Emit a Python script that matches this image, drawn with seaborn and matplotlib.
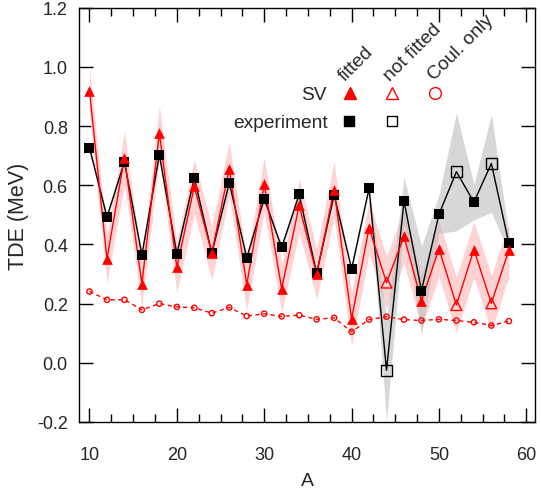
import numpy as np
import pandas as pd
import matplotlib
matplotlib.use("Agg")
import matplotlib.pyplot as plt
from matplotlib.ticker import MultipleLocator, FormatStrFormatter
import seaborn as sns

# Mass numbers
mass_A = [10, 12, 14, 16, 18, 20, 22, 24, 26, 28, 30, 32, 34,
          36, 38, 40, 42, 44, 46, 48, 50, 52, 54, 56, 58]

# Experimental TDE (MeV) and uncertainties
exp_tde = [0.727, 0.493, 0.679, 0.365, 0.703, 0.368, 0.625, 0.371, 0.608,
           0.355, 0.555, 0.390, 0.569, 0.303, 0.568, 0.317, 0.590, -0.025,
           0.547, 0.244, 0.502, 0.646, 0.543, 0.674, 0.404]
exp_err = [0.01, 0.01, 0.01, 0.01, 0.01, 0.01, 0.01, 0.01, 0.01,
           0.01, 0.01, 0.01, 0.01, 0.01, 0.01, 0.01, 0.01, 0.17,
           0.08, 0.15, 0.065, 0.20, 0.06, 0.165, 0.03]
exp_fitted = [True] * 17 + [False, True, True, True, False, True, False, True]

# SV interaction TDE (MeV) and uncertainties
sv_tde = [0.920, 0.351, 0.693, 0.267, 0.777, 0.323, 0.596, 0.371, 0.656,
          0.264, 0.603, 0.250, 0.532, 0.300, 0.585, 0.148, 0.456, 0.271,
          0.427, 0.209, 0.386, 0.195, 0.383, 0.201, 0.381]
sv_err = [0.080, 0.080, 0.090, 0.075, 0.092, 0.085, 0.092, 0.092, 0.090,
          0.088, 0.092, 0.080, 0.090, 0.085, 0.095, 0.090, 0.090, 0.090,
          0.090, 0.090, 0.095, 0.094, 0.095, 0.094, 0.090]
sv_fitted = exp_fitted

# Coulomb-only contribution (MeV)
coul_tde = [0.241, 0.213, 0.213, 0.179, 0.200, 0.189, 0.186, 0.168, 0.187,
            0.158, 0.166, 0.157, 0.161, 0.147, 0.152, 0.105, 0.146, 0.156,
            0.146, 0.143, 0.147, 0.143, 0.137, 0.126, 0.141]

df = pd.DataFrame({"A": mass_A, "exp": exp_tde, "exp_err": exp_err,
                   "sv": sv_tde, "sv_err": sv_err, "coul": coul_tde,
                   "fit": exp_fitted})
fit = df[df["fit"]]
nofit = df[~df["fit"]]

sns.set_theme(style="ticks")
plt.rcParams["font.family"] = ["Liberation Sans", "DejaVu Sans"]
plt.rcParams["axes.unicode_minus"] = False
FS = 13
FS_KEY = 13.8

fig = plt.figure(figsize=(5.41, 4.89), dpi=100)
ax = fig.add_axes([0.146, 0.135, 0.843, 0.847])

# Uncertainty bands
ax.fill_between(df["A"], df["sv"] - df["sv_err"], df["sv"] + df["sv_err"],
                color="#ffd3d3", lw=0, zorder=1)
ax.fill_between(df["A"], df["exp"] - df["exp_err"], df["exp"] + df["exp_err"],
                color="#bdbdbd", alpha=0.6, lw=0, zorder=1.5)

# Lines
sns.lineplot(data=df, x="A", y="exp", color="black", lw=1.0, ax=ax, zorder=2)
sns.lineplot(data=df, x="A", y="sv", color="red", lw=1.0, ax=ax, zorder=3)
sns.lineplot(data=df, x="A", y="coul", color="red", lw=1.0, ax=ax, zorder=3,
             linestyle=(0, (3, 2.5)))

# Markers
sns.scatterplot(data=fit, x="A", y="exp", marker="s", s=6.5**2, color="black",
                edgecolor="black", linewidth=0, ax=ax, zorder=4)
sns.scatterplot(data=nofit, x="A", y="exp", marker="s", s=8**2, color="none",
                edgecolor="black", linewidth=1.0, ax=ax, zorder=4)
sns.scatterplot(data=fit, x="A", y="sv", marker="^", s=7.7**2, color="red",
                edgecolor="red", linewidth=0, ax=ax, zorder=5)
sns.scatterplot(data=nofit, x="A", y="sv", marker="^", s=7.7**2, color="none",
                edgecolor="red", linewidth=1.0, ax=ax, zorder=5)
sns.scatterplot(data=df, x="A", y="coul", marker="o", s=3.8**2, color="none",
                edgecolor="red", linewidth=1.0, ax=ax, zorder=5)

# Axes limits and ticks
ax.set_xlim(8.8, 61.0)
ax.set_ylim(-0.2, 1.2)
ax.xaxis.set_major_locator(MultipleLocator(10))
ax.xaxis.set_minor_locator(MultipleLocator(2.5))
ax.yaxis.set_major_locator(MultipleLocator(0.2))
ax.yaxis.set_major_formatter(FormatStrFormatter("%.1f"))
ax.tick_params(which="both", direction="in", top=True, right=True,
               color="black", width=1.0, labelsize=FS)
ax.tick_params(which="major", length=10)
ax.tick_params(which="minor", length=6)
ax.tick_params(axis="x", which="major", pad=17)
ax.tick_params(axis="y", which="major", pad=8)
for sp in ax.spines.values():
    sp.set_color("black")
    sp.set_linewidth(1.0)

ax.set_xlabel("A", fontsize=14, labelpad=7)
ax.set_ylabel("TDE (MeV)", fontsize=15.5, labelpad=6)

# Key
tr = ax.transAxes
def px(x, y):
    return ((x - 79) / 456, (423 - y) / 414)

for label, (x0, y0) in [("fitted", (345, 82)), ("not fitted", (390, 82)),
                        ("Coul. only", (434, 81))]:
    ax.text(*px(x0, y0), label, transform=tr, rotation=45, fontsize=FS_KEY,
            ha="left", va="baseline", rotation_mode="anchor")
ax.text(*px(327, 96), "SV", transform=tr, fontsize=FS_KEY, ha="right",
        va="center")
ax.text(*px(328, 124), "experiment", transform=tr, fontsize=FS_KEY,
        ha="right", va="center")
ax.plot(*px(350, 94), marker="^", ms=8.5, color="red", transform=tr, clip_on=False)
ax.plot(*px(392, 94), marker="^", ms=8.5, mfc="none", mec="red", mew=1.0,
        transform=tr, clip_on=False)
ax.plot(*px(435, 94), marker="o", ms=8.5, mfc="none", mec="red", mew=1.0,
        transform=tr, clip_on=False)
ax.plot(*px(349, 122), marker="s", ms=7.5, color="black", transform=tr,
        clip_on=False)
ax.plot(*px(392, 122), marker="s", ms=7.5, mfc="none", mec="black", mew=1.0,
        transform=tr, clip_on=False)

fig.savefig("out.png", dpi=100)
